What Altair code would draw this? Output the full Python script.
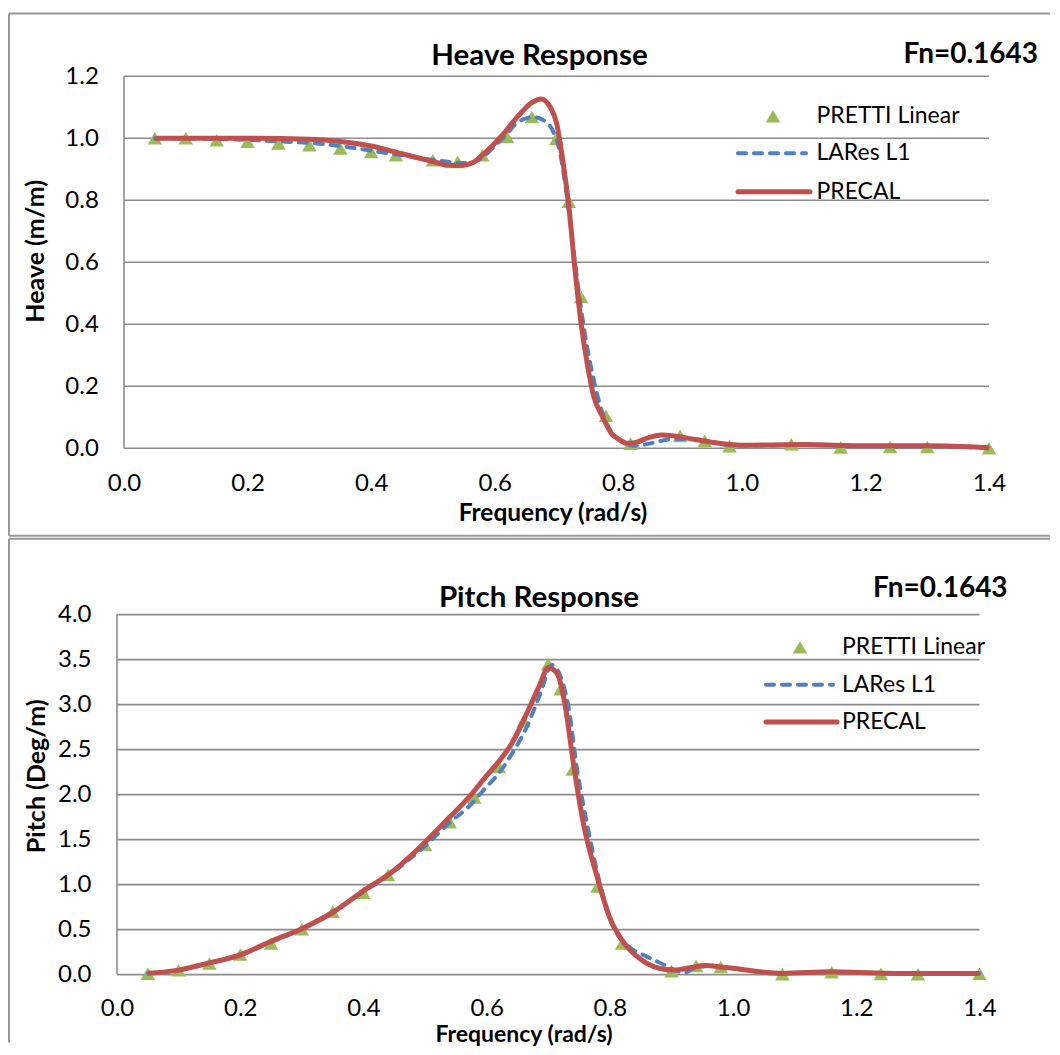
import altair as alt
import pandas as pd

# ---------------- data ----------------
series_names = ["PRETTI Linear", "LARes L1", "PRECAL"]
freq_ticks = [0.0, 0.2, 0.4, 0.6, 0.8, 1.0, 1.2, 1.4]
heave_ticks = [0.0, 0.2, 0.4, 0.6, 0.8, 1.0, 1.2]
pitch_ticks = [0.0, 0.5, 1.0, 1.5, 2.0, 2.5, 3.0, 3.5, 4.0]

pretti_freq = [0.05, 0.10, 0.15, 0.20, 0.25, 0.30, 0.35, 0.40, 0.44, 0.50, 0.54, 0.58, 0.62, 0.66,
               0.70, 0.72, 0.74, 0.78, 0.82, 0.90, 0.94, 0.98, 1.08, 1.16, 1.24, 1.30, 1.40]
heave_pretti = [1.000, 1.000, 0.994, 0.989, 0.983, 0.978, 0.967, 0.956, 0.945, 0.929, 0.924, 0.945, 1.004, 1.069,
                0.999, 0.795, 0.488, 0.105, 0.015, 0.040, 0.024, 0.007, 0.013, 0.003, 0.004, 0.004, 0.000]
pitch_pretti = [0.011, 0.048, 0.123, 0.223, 0.346, 0.505, 0.698, 0.910, 1.107, 1.441, 1.694, 1.969, 2.307, 2.816,
                3.450, 3.170, 2.280, 0.980, 0.345, 0.037, 0.097, 0.085, 0.005, 0.025, 0.008, 0.003, 0.010]

heave_lares_f = [0.05, 0.10, 0.15, 0.20, 0.25, 0.30, 0.35, 0.40, 0.45, 0.50, 0.555, 0.58, 0.60, 0.62, 0.636,
                 0.662, 0.679, 0.695, 0.705, 0.715, 0.725, 0.735, 0.745, 0.755, 0.765, 0.775, 0.785, 0.80,
                 0.815, 0.83, 0.85, 0.87, 0.89, 0.92, 0.95, 0.98, 1.00, 1.05, 1.10, 1.20, 1.30, 1.40]
heave_lares = [1.000, 1.000, 0.998, 0.995, 0.990, 0.985, 0.975, 0.960, 0.945, 0.930, 0.920, 0.938, 0.975, 1.015, 1.050,
               1.068, 1.058, 1.020, 0.960, 0.840, 0.680, 0.520, 0.380, 0.270, 0.180, 0.110, 0.065, 0.030,
               0.012, 0.008, 0.015, 0.024, 0.030, 0.030, 0.020, 0.010, 0.009, 0.010, 0.012, 0.007, 0.007, 0.001]

heave_precal_f = [0.05, 0.10, 0.20, 0.30, 0.35, 0.40, 0.45, 0.50, 0.525, 0.545, 0.565, 0.585, 0.61, 0.635,
                  0.66, 0.675, 0.69, 0.70, 0.71, 0.72, 0.73, 0.74, 0.75, 0.76, 0.775, 0.79, 0.80, 0.815,
                  0.83, 0.85, 0.87, 0.89, 0.92, 0.95, 0.98, 1.00, 1.05, 1.10, 1.20, 1.30, 1.40]
heave_precal = [1.000, 1.000, 1.000, 0.997, 0.990, 0.975, 0.950, 0.925, 0.913, 0.912, 0.922, 0.955, 1.005, 1.065,
                1.115, 1.127, 1.100, 1.050, 0.930, 0.780, 0.575, 0.400, 0.270, 0.170, 0.100, 0.045, 0.030, 0.016,
                0.020, 0.035, 0.043, 0.040, 0.030, 0.020, 0.012, 0.010, 0.011, 0.012, 0.008, 0.008, 0.002]

pitch_lares_f = [0.05, 0.10, 0.15, 0.20, 0.25, 0.30, 0.35, 0.40, 0.45, 0.50, 0.54, 0.57, 0.595, 0.62, 0.638,
                 0.665, 0.687, 0.706, 0.72, 0.733, 0.747, 0.764, 0.78, 0.80, 0.833, 0.86, 0.888, 0.909, 0.92,
                 0.94, 0.96, 0.98, 1.00, 1.04, 1.08, 1.16, 1.22, 1.27, 1.34, 1.40]
pitch_lares = [0.015, 0.050, 0.130, 0.220, 0.360, 0.510, 0.700, 0.920, 1.150, 1.430, 1.690, 1.860, 2.050, 2.240, 2.420,
               2.750, 3.120, 3.440, 3.310, 2.970, 2.270, 1.640, 1.120, 0.620, 0.300, 0.200, 0.110, 0.040, 0.020,
               0.080, 0.095, 0.085, 0.070, 0.035, 0.013, 0.031, 0.020, 0.013, 0.013, 0.013]

pitch_precal_f = [0.05, 0.10, 0.15, 0.20, 0.25, 0.30, 0.35, 0.40, 0.45, 0.50, 0.54, 0.57, 0.60, 0.62, 0.64,
                  0.665, 0.685, 0.70, 0.714, 0.727, 0.741, 0.757, 0.78, 0.80, 0.82, 0.85, 0.88, 0.905, 0.93,
                  0.955, 0.98, 1.00, 1.04, 1.08, 1.16, 1.22, 1.27, 1.34, 1.40]
pitch_precal = [0.015, 0.050, 0.130, 0.220, 0.370, 0.510, 0.690, 0.930, 1.160, 1.470, 1.750, 1.960, 2.210, 2.370, 2.560,
                2.900, 3.200, 3.410, 3.350, 3.010, 2.340, 1.680, 1.070, 0.630, 0.380, 0.170, 0.070, 0.050, 0.075,
                0.100, 0.085, 0.070, 0.035, 0.013, 0.031, 0.020, 0.013, 0.013, 0.013]

# ---------------- style ----------------
FONT = "Lato"
GREEN = "#9BBB59"
BLUE = "#4F81BD"
RED = "#C0504D"
GRID = "#8C8C8C"
FRAME = "#9A9A9A"

dummy = pd.DataFrame({"d": [0]})


def rule_px(x1, x2, y1, y2, color, width):
    return alt.Chart(dummy).mark_rule(color=color, strokeWidth=width).encode(
        x=alt.value(x1), x2=alt.value(x2), y=alt.value(y1), y2=alt.value(y2))


def text_px(txt, x, y, size, bold=False, align="left", baseline="alphabetic", angle=0):
    kw = dict(text=txt, font=FONT, fontSize=size, color="#000000", align=align, baseline=baseline)
    if bold:
        kw["fontWeight"] = "bold"
    if angle:
        kw["angle"] = angle
    return alt.Chart(dummy).mark_text(**kw).encode(x=alt.value(x), y=alt.value(y))


def panel(p):
    xscale = alt.Scale(domain=[p["xmin"], 1.4], nice=False, zero=False)
    yscale = alt.Scale(domain=[0, p["ymax"]], nice=False, zero=False)
    xaxis = alt.Axis(values=freq_ticks, format=".1f", grid=False, domain=False, ticks=False, tickSize=0,
                     labelFont=FONT, labelFontSize=24, labelColor="#000000", labelPadding=p["xlabpad"],
                     labelBaseline="alphabetic", labelFlush=False, labelOverlap=False, title=None)
    yaxis = alt.Axis(values=p["yticks"], format=".1f", grid=False, domain=False, ticks=False, tickSize=0,
                     labelFont=FONT, labelFontSize=24, labelColor="#000000", labelPadding=p["ylabpad"],
                     labelFlush=False, labelOverlap=False, title=None)

    def X(field):
        return alt.X(field, type="quantitative", scale=xscale, axis=xaxis)

    def Y(field):
        return alt.Y(field, type="quantitative", scale=yscale, axis=yaxis)

    grid_df = pd.DataFrame({"gy": p["yticks"], "gx0": 0.0, "gx1": 1.4})
    grid = alt.Chart(grid_df).mark_rule(color=GRID, strokeWidth=1.6).encode(
        x=X("gx0"), x2="gx1", y=Y("gy"))
    yline_df = pd.DataFrame({"lx": [0.0], "ly0": [0.0], "ly1": [p["ymax"]]})
    yline = alt.Chart(yline_df).mark_rule(color=GRID, strokeWidth=1.6).encode(
        x=X("lx"), y=Y("ly0"), y2="ly1")

    pts = alt.Chart(pd.DataFrame({"f": pretti_freq, "v": p["pretti"]})).mark_point(
        shape="triangle-up", filled=True, size=210, color=GREEN, opacity=1).encode(x=X("f"), y=Y("v"))
    lares = alt.Chart(pd.DataFrame({"f": p["lares_f"], "v": p["lares"]})).mark_line(
        color=BLUE, strokeWidth=4, strokeDash=[8, 8], strokeCap="round", interpolate="monotone").encode(
        x=X("f"), y=Y("v"))
    precal = alt.Chart(pd.DataFrame({"f": p["precal_f"], "v": p["precal"]})).mark_line(
        color=RED, strokeWidth=5, interpolate="monotone").encode(x=X("f"), y=Y("v"))

    L = p["leg"]
    legend = [
        alt.Chart(dummy).mark_point(shape="triangle-up", filled=True, size=210, color=GREEN, opacity=1).encode(
            x=alt.value(L["tx"]), y=alt.value(L["y"][0])),
        alt.Chart(dummy).mark_rule(color=BLUE, strokeWidth=4, strokeDash=[8, 8], strokeCap="round").encode(
            x=alt.value(L["lx0"]), x2=alt.value(L["lx1"] - 4), y=alt.value(L["y"][1])),
        alt.Chart(dummy).mark_rule(color=RED, strokeWidth=5, strokeCap="round").encode(
            x=alt.value(L["lx0"]), x2=alt.value(L["lx1"]), y=alt.value(L["y"][2])),
    ]
    for i, name in enumerate(series_names):
        legend.append(text_px(name, L["textx"], L["y"][i], 23, baseline="middle"))

    deco = [rule_px(f[0], f[1], f[2], f[3], FRAME, 2) for f in p["frame"]]
    texts = [
        text_px(p["title"], p["title_x"], p["title_y"], 29.5, bold=True, align="center"),
        text_px("Fn=0.1643", p["fn_x"], p["fn_y"], 28, bold=True, align="right"),
        text_px(p["ytitle"], p["ytitle_x"], p["ytitle_y"], 25, bold=True, align="center", angle=270),
        text_px("Frequency (rad/s)", p["xtitle_x"], p["xtitle_y"], p["xtitle_size"], bold=True, align="center"),
    ]
    return alt.layer(*deco, grid, yline, pts, lares, precal, *legend, *texts).properties(
        width=p["width"], height=p["height"])


top = panel(dict(
    xmin=-7 / (865 / 1.4), ymax=1.2, yticks=heave_ticks, width=872, height=372,
    xlabpad=42.5, ylabpad=18.7,
    pretti=heave_pretti, lares_f=heave_lares_f, lares=heave_lares, precal_f=heave_precal_f, precal=heave_precal,
    leg=dict(tx=656, y=[40, 77, 115.5], lx0=621, lx1=693, textx=699.5),
    frame=[(-108, 933, -62.7, -62.7), (-108, 933, 459.5, 459.5), (-108, -108, -62.7, 459.5)],
    title="Heave Response", title_x=422.5, title_y=-11.6, fn_x=921, fn_y=-13.5,
    ytitle="Heave (m/m)", ytitle_x=-73, ytitle_y=175, xtitle_x=436, xtitle_y=444.5, xtitle_size=24.5,
))

bottom = panel(dict(
    xmin=0.0, ymax=4.0, yticks=pitch_ticks, width=862.5, height=360,
    xlabpad=40.5, ylabpad=26,
    pretti=pitch_pretti, lares_f=pitch_lares_f, lares=pitch_lares, precal_f=pitch_precal_f, precal=pitch_precal,
    leg=dict(tx=683, y=[32.7, 70.2, 107.3], lx0=649, lx1=720, textx=725),
    frame=[(-108, 933, -75.8, -75.8), (-108, -108, -75.8, 428)],
    title="Pitch Response", title_x=422, title_y=-7.3, fn_x=890.6, fn_y=-17.3,
    ytitle="Pitch (Deg/m)", ytitle_x=-72, ytitle_y=161.7, xtitle_x=407, xtitle_y=427.9, xtitle_size=23,
))

chart = alt.vconcat(top, bottom, spacing=166.3, bounds="flush").resolve_scale(
    x="independent", y="independent").properties(
    padding={"left": 0, "top": 4.3, "right": 0, "bottom": 0}, background="white"
).configure_view(strokeWidth=0)

chart.save("out.html", embed_options={"renderer": "svg", "actions": False})
